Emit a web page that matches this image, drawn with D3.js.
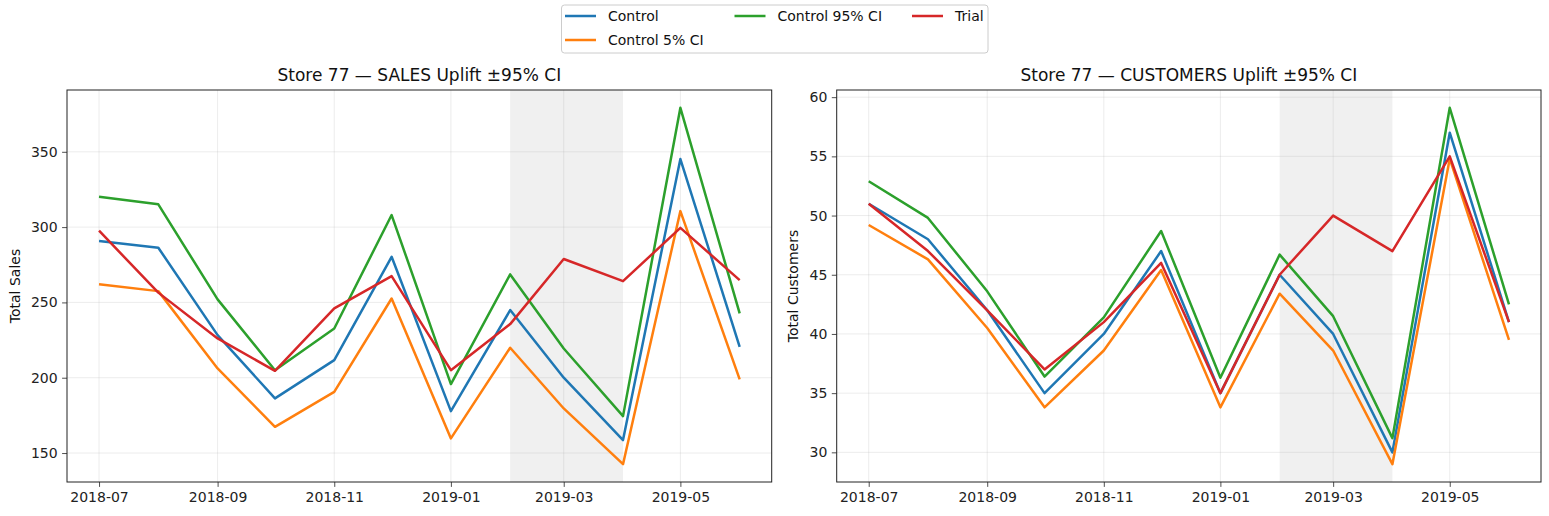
<!DOCTYPE html>
<html>
<head>
<meta charset="utf-8">
<script src="https://cdn.jsdelivr.net/npm/d3@7"></script>
<style>
  body { margin: 0; background: #fff; }
  svg { font-family: "DejaVu Sans", sans-serif; }
</style>
</head>
<body>
<svg id="chart" width="1549" height="516"></svg>
<script>
// months shown on both panels
const months = ['2018-07-01','2018-08-01','2018-09-01','2018-10-01','2018-11-01','2018-12-01',
                '2019-01-01','2019-02-01','2019-03-01','2019-04-01','2019-05-01','2019-06-01'];
const tickLabels = ['2018-07','2018-09','2018-11','2019-01','2019-03','2019-05'];
const trialStart = '2019-02-01';
const trialEnd = '2019-04-01';

const seriesNames = ['Control', 'Control 5% CI', 'Control 95% CI', 'Trial'];
const colors = ['#1f77b4', '#ff7f0e', '#2ca02c', '#d62728'];

// sales panel
const salesControl = [290.7, 286.3, 228.3, 186.3, 211.7, 280.3, 177.8, 244.9, 200.0, 158.6, 345.2, 220.5];
const salesLow     = [262.0, 257.5, 206.2, 167.4, 190.6, 252.6, 159.7, 219.9, 179.6, 142.6, 310.6, 198.9];
const salesHigh    = [320.1, 315.1, 252.0, 205.0, 232.7, 308.0, 195.8, 268.6, 219.4, 174.5, 379.2, 242.7];
const salesTrial   = [297.6, 256.5, 226.1, 204.6, 246.0, 267.5, 205.0, 235.6, 278.8, 264.1, 299.5, 264.8];
const salesTicks = [150, 200, 250, 300, 350];

// customers panel
const custControl = [51, 48, 42, 35, 40, 47, 35, 45, 40, 30, 57, 41];
const custLow     = [49.2, 46.3, 40.5, 33.8, 38.6, 45.4, 33.8, 43.4, 38.6, 29.0, 54.8, 39.5];
const custHigh    = [52.9, 49.8, 43.6, 36.4, 41.4, 48.7, 36.3, 46.7, 41.5, 31.2, 59.1, 42.5];
const custTrial   = [51, 47, 42, 37, 41, 46, 35, 45, 50, 47, 55, 41];
const custTicks = [30, 35, 40, 45, 50, 55, 60];

const svg = d3.select('#chart');
const parse = d3.utcParse('%Y-%m-%d');
const dates = months.map(parse);
const tickDates = tickLabels.map(t => parse(t + '-01'));

function panel(left, right, title, ylabel, series, yticks, ylabelX) {
  const top = 90, bottom = 482;
  const t0 = dates[0].getTime(), t1 = dates[dates.length - 1].getTime();
  const tp = (t1 - t0) * 0.05;
  const x = d3.scaleUtc().domain([new Date(t0 - tp), new Date(t1 + tp)]).range([left, right]);
  const all = series.flat();
  const lo = d3.min(all), hi = d3.max(all), yp = (hi - lo) * 0.05;
  const y = d3.scaleLinear().domain([lo - yp, hi + yp]).range([bottom, top]);

  const g = svg.append('g');

  // trial period shading
  g.append('rect')
    .attr('x', x(parse(trialStart)))
    .attr('width', x(parse(trialEnd)) - x(parse(trialStart)))
    .attr('y', top).attr('height', bottom - top)
    .attr('fill', '#f0f0f0');

  // grid
  g.selectAll('.gx').data(tickDates).enter().append('line')
    .attr('x1', d => x(d)).attr('x2', d => x(d)).attr('y1', top).attr('y2', bottom)
    .attr('stroke', '#b0b0b0').attr('stroke-opacity', 0.3).attr('stroke-width', 0.8);
  g.selectAll('.gy').data(yticks).enter().append('line')
    .attr('x1', left).attr('x2', right).attr('y1', d => y(d)).attr('y2', d => y(d))
    .attr('stroke', '#b0b0b0').attr('stroke-opacity', 0.3).attr('stroke-width', 0.8);

  const line = d3.line().x((d, i) => x(dates[i])).y(d => y(d));
  series.forEach((s, i) => {
    g.append('path').datum(s).attr('d', line)
      .attr('fill', 'none').attr('stroke', colors[i]).attr('stroke-width', 2.5)
      .attr('stroke-linejoin', 'round');
  });

  // axes
  const xa = g.append('g').attr('transform', `translate(0,${bottom})`)
    .call(d3.axisBottom(x).tickValues(tickDates).tickFormat(d3.utcFormat('%Y-%m')).tickSize(4.9).tickPadding(5));
  const ya = g.append('g').attr('transform', `translate(${left},0)`)
    .call(d3.axisLeft(y).tickValues(yticks).tickSize(4.9).tickPadding(4.5));
  [xa, ya].forEach(a => {
    a.select('.domain').remove();
    a.selectAll('text').attr('font-size', 14).attr('fill', '#222')
      .attr('font-family', '"DejaVu Sans", sans-serif');
    a.selectAll('line').attr('stroke', '#222').attr('stroke-width', 0.8);
  });

  g.append('rect').attr('x', left).attr('y', top).attr('width', right - left).attr('height', bottom - top)
    .attr('fill', 'none').attr('stroke', '#222').attr('stroke-width', 1);

  g.append('text').attr('x', (left + right) / 2).attr('y', 81).attr('text-anchor', 'middle')
    .attr('font-size', 17).attr('fill', '#111').text(title);

  g.append('text').attr('transform', `translate(${ylabelX},${(top + bottom) / 2}) rotate(-90)`)
    .attr('text-anchor', 'middle').attr('font-size', 14).attr('fill', '#111').text(ylabel);
}

panel(67, 771.7, 'Store 77 \u2014 SALES Uplift \u00b195% CI', 'Total Sales',
  [salesControl, salesLow, salesHigh, salesTrial], salesTicks, 20);
panel(836.7, 1541, 'Store 77 \u2014 CUSTOMERS Uplift \u00b195% CI', 'Total Customers',
  [custControl, custLow, custHigh, custTrial], custTicks, 798);

// legend
const lg = svg.append('g');
lg.append('rect').attr('x', 561.5).attr('y', 5).attr('width', 426.5).attr('height', 48).attr('rx', 3)
  .attr('fill', '#fff').attr('stroke', '#cccccc').attr('stroke-width', 1);
const legendPos = [[565, 16], [565, 40], [734.5, 16], [912, 16]];
seriesNames.forEach((n, i) => {
  const [lx, ly] = legendPos[i];
  lg.append('line').attr('x1', lx).attr('x2', lx + 31).attr('y1', ly).attr('y2', ly)
    .attr('stroke', colors[i]).attr('stroke-width', 2.5);
  lg.append('text').attr('x', lx + 43).attr('y', ly + 5).attr('font-size', 14).attr('fill', '#111').text(n);
});
</script>
</body>
</html>
